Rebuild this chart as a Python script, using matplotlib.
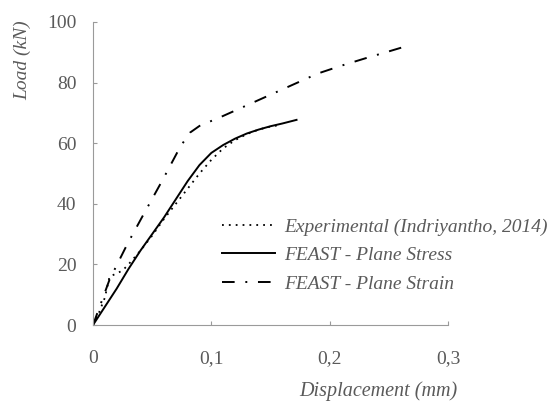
import matplotlib
matplotlib.use("Agg")
import matplotlib.pyplot as plt
from matplotlib.ticker import FixedLocator, FuncFormatter

# Data
exp_x = [0, 0.005, 0.01, 0.014, 0.02, 0.025, 0.03, 0.04, 0.05, 0.06, 0.07, 0.08, 0.09, 0.10, 0.11, 0.12, 0.13, 0.14, 0.15, 0.158]
exp_y = [0, 4, 9, 16, 17, 18, 20, 24.5, 29.5, 35, 40, 45, 50, 54.5, 58.3, 61, 63, 64.5, 65.5, 66]

stress_x = [0, 0.01, 0.02, 0.03, 0.04, 0.05, 0.06, 0.07, 0.08, 0.09, 0.10, 0.11, 0.12, 0.13, 0.14, 0.15, 0.16, 0.172]
stress_y = [0, 6, 12, 18.5, 24.5, 30, 35.5, 41.5, 47.5, 52.8, 56.8, 59.4, 61.5, 63.2, 64.5, 65.6, 66.5, 67.7]

strain_x = [0, 0.014, 0.029, 0.042, 0.059, 0.074, 0.082, 0.09, 0.11, 0.13, 0.15, 0.17, 0.19, 0.21, 0.23, 0.25, 0.262]
strain_y = [0, 15, 26.7, 36, 48, 59, 63.5, 65.7, 69, 72.5, 76, 79.5, 83, 85.6, 88, 90.3, 91.7]

labels = ["Experimental (Indriyantho, 2014)", "FEAST - Plane Stress", "FEAST - Plane Strain"]
x_ticks = [0, 0.1, 0.2, 0.3]
y_ticks = [0, 20, 40, 60, 80, 100]

serif = ["Liberation Serif", "DejaVu Serif"]
txt_color = "#5a5a5a"
axis_color = "#9a9a9a"

fig = plt.figure(figsize=(5.52, 4.07), dpi=100)
ax = fig.add_axes([93/552, 1-325/407, 355/552, 303/407])

ax.plot(exp_x, exp_y, color="black", lw=1.3, linestyle=(0, (1, 2.8)), label=labels[0])
ax.plot(stress_x, stress_y, color="black", lw=1.4, linestyle="-", label=labels[1])
ax.plot(strain_x, strain_y, color="black", lw=1.4, linestyle=(0, (6.5, 5.5, 1, 5.5)), label=labels[2])

ax.set_xlim(0, 0.3)
ax.set_ylim(0, 100)
ax.xaxis.set_major_locator(FixedLocator(x_ticks))
ax.yaxis.set_major_locator(FixedLocator(y_ticks))
ax.xaxis.set_major_formatter(FuncFormatter(lambda v, p: ("%g" % round(v, 2)).replace(".", ",")))
ax.yaxis.set_major_formatter(FuncFormatter(lambda v, p: "%d" % v))

for s in ["top", "right"]:
    ax.spines[s].set_visible(False)
for s in ["left", "bottom"]:
    ax.spines[s].set_color(axis_color)
    ax.spines[s].set_linewidth(0.8)

ax.tick_params(direction="in", length=3, width=0.8, color=axis_color,
               labelcolor=txt_color, labelsize=14)
ax.tick_params(axis="x", pad=18)
ax.tick_params(axis="y", pad=12)
for lab in ax.get_xticklabels() + ax.get_yticklabels():
    lab.set_family(serif)

fig.text(23/552, 1-60/407, "Load (kN)", rotation=90, ha="center", va="center",
         fontsize=14, style="italic", family=serif, color=txt_color)
fig.text(378/552, 1-391/407, "Displacement (mm)", ha="center", va="center",
         fontsize=14.5, style="italic", family=serif, color=txt_color)

leg = ax.legend(loc="upper left", bbox_to_anchor=((222-93)/355, (325-218)/303),
                frameon=False, borderpad=0, borderaxespad=0, handlelength=2.75,
                handletextpad=0.45, labelspacing=0.56,
                prop={"family": serif, "style": "italic", "size": 14})
for t in leg.get_texts():
    t.set_color(txt_color)

fig.savefig("out.png", dpi=100, facecolor="white")
